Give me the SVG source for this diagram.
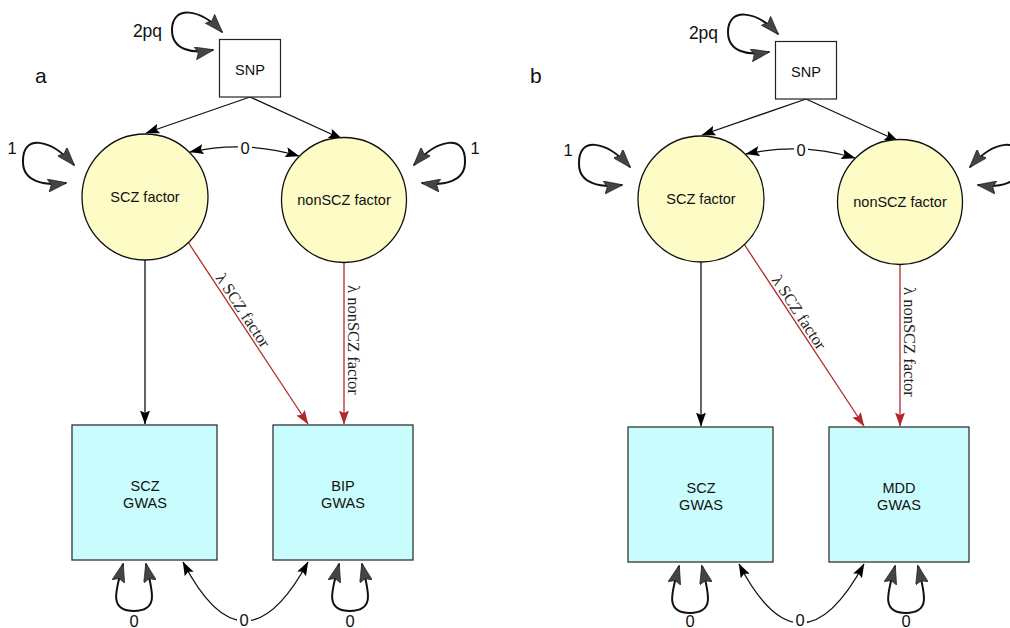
<svg xmlns="http://www.w3.org/2000/svg" width="1010" height="628" viewBox="0 0 1010 628">
<style>
  .t{font-family:"Liberation Sans",Arial,sans-serif;font-size:14.5px;fill:#111;text-anchor:middle}
  .lb{font-family:"Liberation Sans",Arial,sans-serif;font-size:16.5px;fill:#111;text-anchor:middle}
  .pl{font-family:"Liberation Sans",Arial,sans-serif;font-size:21px;fill:#111}
  .lam{font-family:"Liberation Serif","Times New Roman",serif;font-size:16.5px;fill:#222}
  .sq{fill:#fff;stroke:#222;stroke-width:1.2}
  .fac{fill:#fdfbc6;stroke:#111;stroke-width:1.3}
  .obs{fill:#c9fcfc;stroke:#333;stroke-width:1.3}
  .ln{fill:none;stroke:#111;stroke-width:1.3}
  .rl{fill:none;stroke:#b3282d;stroke-width:1.3}
  .lp{fill:none;stroke:#111;stroke-width:2}
  .bg{fill:#fff}
</style>
<defs>
  <marker id="ah" viewBox="0 0 14 10" refX="13.5" refY="5" markerWidth="14" markerHeight="10" markerUnits="userSpaceOnUse" orient="auto-start-reverse">
    <path d="M0,0 L14,5 L0,10 L2.5,5 z" fill="#000"/>
  </marker>
  <marker id="ahr" viewBox="0 0 14 10" refX="13.5" refY="5" markerWidth="14" markerHeight="10" markerUnits="userSpaceOnUse" orient="auto-start-reverse">
    <path d="M0,0 L14,5 L0,10 L2.5,5 z" fill="#b3282d"/>
  </marker>
  <marker id="ahl" viewBox="0 0 19 13" refX="18" refY="6.5" markerWidth="19" markerHeight="13" markerUnits="userSpaceOnUse" orient="auto-start-reverse">
    <path d="M0,0 L19,6.5 L0,13 L3,6.5 z" fill="#444" stroke="#111" stroke-width="0.6"/>
  </marker>
</defs>
<rect width="1010" height="628" fill="#fff"/>

<text class="pl" x="35" y="83">a</text>
<text class="pl" x="530" y="83">b</text>

<!-- Panel a -->
<g id="panel-a">
  <g id="a-connectors">
    <path class="ln" d="M250,97 L146,133" marker-end="url(#ah)"/>
    <path class="ln" d="M250,97 L342,139" marker-end="url(#ah)"/>
    <path class="ln" d="M145,260 L145,424" marker-end="url(#ah)"/>
    <path class="rl" d="M188,242 L308,424" marker-end="url(#ahr)"/>
    <path class="rl" d="M344,262 L344,424" marker-end="url(#ahr)"/>
    <path class="ln" d="M190,152 Q245,140 299,156" marker-start="url(#ah)" marker-end="url(#ah)"/>
    <path class="ln" d="M183,562 Q244,680 308,562" marker-start="url(#ah)" marker-end="url(#ah)"/>
    <path class="lp" d="M222,32 C200,8 172,5 172,30 C172,50 192,54 213,50" marker-start="url(#ahl)" marker-end="url(#ahl)"/>
    <path class="lp" d="M74,165 C50,138 22,134 23,162 C23,182 45,186 66,183" marker-start="url(#ahl)" marker-end="url(#ahl)"/>
    <path class="lp" d="M414,165 C438,138 466,134 465,162 C465,182 443,186 422,183" marker-start="url(#ahl)" marker-end="url(#ahl)"/>
    <path class="lp" d="M123,564 C116,590 108,611 134,611 C160,611 152,590 146,564" marker-start="url(#ahl)" marker-end="url(#ahl)"/>
    <path class="lp" d="M339,564 C332,590 324,611 350,611 C376,611 368,590 362,564" marker-start="url(#ahl)" marker-end="url(#ahl)"/>
    <rect class="bg" x="238" y="139" width="14" height="17"/>
    <text class="lb" x="245" y="154">0</text>
    <rect class="bg" x="237" y="611" width="14" height="17"/>
    <text class="lb" x="244" y="625.5">0</text>
    <text class="lb" x="134" y="626.5">0</text>
    <text class="lb" x="350" y="626.5">0</text>
    <text class="lb" x="12" y="154">1</text>
    <text class="lb" x="475" y="154">1</text>
    <text class="lb" x="147.5" y="36.5" style="font-size:17.5px">2pq</text>
    <text class="lam" transform="translate(215,278) rotate(56.6)">λ SCZ factor</text>
    <text class="lam" transform="translate(347.5,285) rotate(90)">λ nonSCZ factor</text>
  </g>
  <g id="a-snp"><rect class="sq" x="219.5" y="39.5" width="61" height="57.5"/><text class="t" x="250" y="75">SNP</text></g>
  <g id="a-scz-factor"><circle class="fac" cx="145" cy="197" r="63"/><text class="t" x="145" y="202">SCZ factor</text></g>
  <g id="a-nonscz-factor"><circle class="fac" cx="344" cy="200" r="62.5"/><text class="t" x="344" y="205">nonSCZ factor</text></g>
  <g id="a-scz-gwas"><rect class="obs" x="72" y="425" width="145" height="135"/><text class="t" x="145" y="491">SCZ</text><text class="t" x="145" y="508">GWAS</text></g>
  <g id="a-bip-gwas"><rect class="obs" x="273" y="425" width="140" height="135"/><text class="t" x="343" y="491">BIP</text><text class="t" x="343" y="508">GWAS</text></g>
</g>

<!-- Panel b -->
<g id="panel-b" transform="translate(556,2)">
  <g id="b-connectors">
    <path class="ln" d="M250,97 L146,133" marker-end="url(#ah)"/>
    <path class="ln" d="M250,97 L342,139" marker-end="url(#ah)"/>
    <path class="ln" d="M145,260 L145,424" marker-end="url(#ah)"/>
    <path class="rl" d="M188,242 L308,424" marker-end="url(#ahr)"/>
    <path class="rl" d="M344,262 L344,424" marker-end="url(#ahr)"/>
    <path class="ln" d="M190,152 Q245,140 299,156" marker-start="url(#ah)" marker-end="url(#ah)"/>
    <path class="ln" d="M183,562 Q244,680 308,562" marker-start="url(#ah)" marker-end="url(#ah)"/>
    <path class="lp" d="M222,32 C200,8 172,5 172,30 C172,50 192,54 213,50" marker-start="url(#ahl)" marker-end="url(#ahl)"/>
    <path class="lp" d="M74,165 C50,138 22,134 23,162 C23,182 45,186 66,183" marker-start="url(#ahl)" marker-end="url(#ahl)"/>
    <path class="lp" d="M414,165 C438,138 466,134 465,162 C465,182 443,186 422,183" marker-start="url(#ahl)" marker-end="url(#ahl)"/>
    <path class="lp" d="M123,564 C116,590 108,611 134,611 C160,611 152,590 146,564" marker-start="url(#ahl)" marker-end="url(#ahl)"/>
    <path class="lp" d="M339,564 C332,590 324,611 350,611 C376,611 368,590 362,564" marker-start="url(#ahl)" marker-end="url(#ahl)"/>
    <rect class="bg" x="238" y="139" width="14" height="17"/>
    <text class="lb" x="245" y="154">0</text>
    <rect class="bg" x="237" y="610" width="14" height="16"/>
    <text class="lb" x="244" y="624">0</text>
    <text class="lb" x="134" y="624.5">0</text>
    <text class="lb" x="350" y="624.5">0</text>
    <text class="lb" x="12" y="154">1</text>
    <text class="lb" x="147.5" y="36.5" style="font-size:17.5px">2pq</text>
    <text class="lam" transform="translate(215,278) rotate(56.6)">λ SCZ factor</text>
    <text class="lam" transform="translate(347.5,285) rotate(90)">λ nonSCZ factor</text>
  </g>
  <g id="b-snp"><rect class="sq" x="219.5" y="39.5" width="61" height="57.5"/><text class="t" x="250" y="75">SNP</text></g>
  <g id="b-scz-factor"><circle class="fac" cx="145" cy="197" r="63"/><text class="t" x="145" y="202">SCZ factor</text></g>
  <g id="b-nonscz-factor"><circle class="fac" cx="344" cy="200" r="62.5"/><text class="t" x="344" y="205">nonSCZ factor</text></g>
  <g id="b-scz-gwas"><rect class="obs" x="72" y="425" width="145" height="135"/><text class="t" x="145" y="491">SCZ</text><text class="t" x="145" y="508">GWAS</text></g>
  <g id="b-mdd-gwas"><rect class="obs" x="273" y="425" width="140" height="135"/><text class="t" x="343" y="491">MDD</text><text class="t" x="343" y="508">GWAS</text></g>
</g>
</svg>
